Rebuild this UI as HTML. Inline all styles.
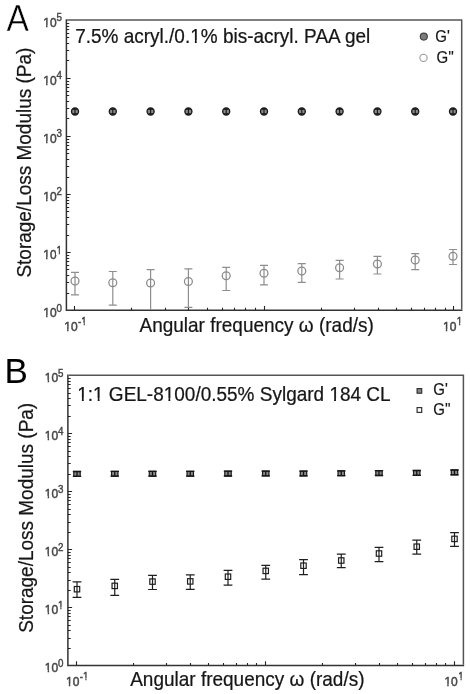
<!DOCTYPE html><html><head><meta charset="utf-8"><style>
html,body{margin:0;padding:0;background:#fff;}
body{width:470px;height:694px;overflow:hidden;}
svg{display:block;filter:grayscale(1) blur(0.35px);}
text{font-family:"Liberation Sans",sans-serif;}
.tl{font-size:12px;fill:#3e4848;stroke:#3e4848;stroke-width:0.45px;}
.ts{font-size:9.8px;fill:#3e4848;stroke:#3e4848;stroke-width:0.4px;}
.ttl{font-size:19px;fill:#161616;stroke:#161616;stroke-width:0.22px;}
.lg{font-size:15px;fill:#161616;stroke:#161616;stroke-width:0.2px;}
.big{font-size:35px;fill:#000;}
.bigA{stroke:#fff;stroke-width:0.5px;}
</style></head><body><svg width="470" height="694" viewBox="0 0 470 694"><rect width="470" height="694" fill="#fff"/><path d="M66.4,19.35 V310.25 H462.45" fill="none" stroke="#333" stroke-width="1.5"/><path d="M67.15,20.1 H461.7 V309.5" fill="none" stroke="#555" stroke-width="1.5"/><path d="M66.4,293.50h2.8M66.4,282.50h2.8M66.4,275.50h2.8M66.4,269.50h2.8M66.4,265.50h2.8M66.4,261.50h2.8M66.4,258.50h2.8M66.4,255.50h2.8M66.4,252.50h4.2M66.4,235.50h2.8M66.4,224.50h2.8M66.4,217.50h2.8M66.4,211.50h2.8M66.4,207.50h2.8M66.4,203.50h2.8M66.4,200.50h2.8M66.4,197.50h2.8M66.4,194.50h4.2M66.4,177.50h2.8M66.4,166.50h2.8M66.4,159.50h2.8M66.4,153.50h2.8M66.4,149.50h2.8M66.4,145.50h2.8M66.4,142.50h2.8M66.4,139.50h2.8M66.4,136.50h4.2M66.4,118.50h2.8M66.4,108.50h2.8M66.4,101.50h2.8M66.4,95.50h2.8M66.4,91.50h2.8M66.4,87.50h2.8M66.4,84.50h2.8M66.4,81.50h2.8M66.4,78.50h4.2M66.4,60.50h2.8M66.4,50.50h2.8M66.4,43.50h2.8M66.4,37.50h2.8M66.4,33.50h2.8M66.4,29.50h2.8M66.4,26.50h2.8M66.4,23.50h2.8M74.50,310.25v-4.2M131.50,310.25v-2.4M165.50,310.25v-2.4M188.50,310.25v-2.4M207.50,310.25v-2.4M222.50,310.25v-2.4M234.50,310.25v-2.4M245.50,310.25v-2.4M255.50,310.25v-2.4M264.50,310.25v-4.2M321.50,310.25v-2.4M354.50,310.25v-2.4M378.50,310.25v-2.4M396.50,310.25v-2.4M411.50,310.25v-2.4M424.50,310.25v-2.4M435.50,310.25v-2.4M445.50,310.25v-2.4M453.50,310.25v-4.2" fill="none" stroke="#252525" stroke-width="1.1"/><path d="M67.9,374.5 V665.5 H464.15" fill="none" stroke="#333" stroke-width="1.5"/><path d="M68.65,375.25 H463.4 V664.75" fill="none" stroke="#555" stroke-width="1.5"/><path d="M67.9,648.50h2.8M67.9,638.50h2.8M67.9,630.50h2.8M67.9,625.50h2.8M67.9,620.50h2.8M67.9,616.50h2.8M67.9,613.50h2.8M67.9,610.50h2.8M67.9,607.50h4.2M67.9,590.50h2.8M67.9,580.50h2.8M67.9,572.50h2.8M67.9,567.50h2.8M67.9,562.50h2.8M67.9,558.50h2.8M67.9,555.50h2.8M67.9,552.50h2.8M67.9,549.50h4.2M67.9,532.50h2.8M67.9,522.50h2.8M67.9,514.50h2.8M67.9,509.50h2.8M67.9,504.50h2.8M67.9,500.50h2.8M67.9,497.50h2.8M67.9,494.50h2.8M67.9,491.50h4.2M67.9,474.50h2.8M67.9,463.50h2.8M67.9,456.50h2.8M67.9,451.50h2.8M67.9,446.50h2.8M67.9,442.50h2.8M67.9,439.50h2.8M67.9,436.50h2.8M67.9,433.50h4.2M67.9,416.50h2.8M67.9,405.50h2.8M67.9,398.50h2.8M67.9,393.50h2.8M67.9,388.50h2.8M67.9,384.50h2.8M67.9,381.50h2.8M67.9,378.50h2.8M76.50,665.5v-4.2M133.50,665.5v-2.4M166.50,665.5v-2.4M190.50,665.5v-2.4M208.50,665.5v-2.4M223.50,665.5v-2.4M236.50,665.5v-2.4M247.50,665.5v-2.4M256.50,665.5v-2.4M265.50,665.5v-4.2M322.50,665.5v-2.4M355.50,665.5v-2.4M379.50,665.5v-2.4M397.50,665.5v-2.4M412.50,665.5v-2.4M425.50,665.5v-2.4M436.50,665.5v-2.4M445.50,665.5v-2.4M454.50,665.5v-4.2" fill="none" stroke="#252525" stroke-width="1.1"/><text transform="translate(56.60,316.85) scale(1.0,1.05)" class="tl" text-anchor="end">10</text><text transform="translate(56.40,311.55) scale(1.0,1.04)" class="ts">0</text><text transform="translate(56.60,258.82) scale(1.0,1.05)" class="tl" text-anchor="end">10</text><text transform="translate(56.40,253.52) scale(1.0,1.04)" class="ts">1</text><text transform="translate(56.60,200.79) scale(1.0,1.05)" class="tl" text-anchor="end">10</text><text transform="translate(56.40,195.49) scale(1.0,1.04)" class="ts">2</text><text transform="translate(56.60,142.76) scale(1.0,1.05)" class="tl" text-anchor="end">10</text><text transform="translate(56.40,137.46) scale(1.0,1.04)" class="ts">3</text><text transform="translate(56.60,84.73) scale(1.0,1.05)" class="tl" text-anchor="end">10</text><text transform="translate(56.40,79.43) scale(1.0,1.04)" class="ts">4</text><text transform="translate(56.60,26.70) scale(1.0,1.05)" class="tl" text-anchor="end">10</text><text transform="translate(56.40,21.40) scale(1.0,1.04)" class="ts">5</text><text transform="translate(58.20,672.10) scale(1.0,1.05)" class="tl" text-anchor="end">10</text><text transform="translate(58.00,666.80) scale(1.0,1.04)" class="ts">0</text><text transform="translate(58.20,614.05) scale(1.0,1.05)" class="tl" text-anchor="end">10</text><text transform="translate(58.00,608.75) scale(1.0,1.04)" class="ts">1</text><text transform="translate(58.20,556.00) scale(1.0,1.05)" class="tl" text-anchor="end">10</text><text transform="translate(58.00,550.70) scale(1.0,1.04)" class="ts">2</text><text transform="translate(58.20,497.95) scale(1.0,1.05)" class="tl" text-anchor="end">10</text><text transform="translate(58.00,492.65) scale(1.0,1.04)" class="ts">3</text><text transform="translate(58.20,439.90) scale(1.0,1.05)" class="tl" text-anchor="end">10</text><text transform="translate(58.00,434.60) scale(1.0,1.04)" class="ts">4</text><text transform="translate(58.20,381.85) scale(1.0,1.05)" class="tl" text-anchor="end">10</text><text transform="translate(58.00,376.55) scale(1.0,1.04)" class="ts">5</text><text transform="translate(64.30,330.80) scale(1.0,1.05)" class="tl">10</text><text transform="translate(78.10,325.10) scale(1.0,1.04)" class="ts">-1</text><text transform="translate(443.00,330.80) scale(1.0,1.05)" class="tl">10</text><text transform="translate(456.80,325.10) scale(1.0,1.04)" class="ts">1</text><text transform="translate(66.00,685.90) scale(1.0,1.05)" class="tl">10</text><text transform="translate(79.80,680.20) scale(1.0,1.04)" class="ts">-1</text><text transform="translate(444.40,685.90) scale(1.0,1.05)" class="tl">10</text><text transform="translate(458.20,680.20) scale(1.0,1.04)" class="ts">1</text><text transform="translate(6.40,31.20) scale(0.96,1.045)" class="big bigA">A</text><text transform="translate(4.40,382.60) scale(1.0,1.02)" class="big">B</text><text transform="translate(75.20,42.70) scale(1.0,1.065)" class="ttl">7.5% acryl./0.1% bis-acryl. PAA gel</text><text transform="translate(77.20,400.80) scale(1.0,1.065)" class="ttl">1:1 GEL-8100/0.55% Sylgard 184 CL</text><text transform="translate(139.50,332.20) scale(1.0,1.065)" class="ttl">Angular frequency ω (rad/s)</text><text transform="translate(130.20,685.90) scale(1.0,1.065)" class="ttl">Angular frequency ω (rad/s)</text><text transform="translate(30.7,277.6) rotate(-90) scale(1,1.03)" class="ttl">Storage/Loss Modulus (Pa)</text><text transform="translate(32.5,632.8) rotate(-90) scale(1,1.03)" class="ttl">Storage/Loss Modulus (Pa)</text><circle cx="423.8" cy="36.6" r="3.5" fill="#7d7d7d" stroke="#444" stroke-width="1.2"/><text transform="translate(435.30,42.40) scale(1.0,1.1)" class="lg">G'</text><circle cx="423.5" cy="57.9" r="3.6" fill="#fff" stroke="#999" stroke-width="1.1"/><text transform="translate(436.60,62.80) scale(1.0,1.1)" class="lg">G''</text><rect x="417.1" y="388.6" width="4.6" height="4.6" fill="#888" stroke="#333" stroke-width="1.2"/><text transform="translate(433.30,395.20) scale(1.0,1.1)" class="lg">G'</text><rect x="417.1" y="407.6" width="4.6" height="4.8" fill="#fff" stroke="#333" stroke-width="1.2"/><text transform="translate(433.30,415.20) scale(1.0,1.1)" class="lg">G''</text><circle cx="75.00" cy="111.5" r="3.5" fill="#8a8a8a" stroke="#1c1c1c" stroke-width="1.4"/><path d="M75.00,108.3V114.7M72.80,109.2h4.4M72.80,113.8h4.4" stroke="#151515" stroke-width="1.1" fill="none"/><circle cx="112.80" cy="111.5" r="3.5" fill="#8a8a8a" stroke="#1c1c1c" stroke-width="1.4"/><path d="M112.80,108.3V114.7M110.60,109.2h4.4M110.60,113.8h4.4" stroke="#151515" stroke-width="1.1" fill="none"/><circle cx="150.60" cy="111.5" r="3.5" fill="#8a8a8a" stroke="#1c1c1c" stroke-width="1.4"/><path d="M150.60,108.3V114.7M148.40,109.2h4.4M148.40,113.8h4.4" stroke="#151515" stroke-width="1.1" fill="none"/><circle cx="188.40" cy="111.5" r="3.5" fill="#8a8a8a" stroke="#1c1c1c" stroke-width="1.4"/><path d="M188.40,108.3V114.7M186.20,109.2h4.4M186.20,113.8h4.4" stroke="#151515" stroke-width="1.1" fill="none"/><circle cx="226.20" cy="111.5" r="3.5" fill="#8a8a8a" stroke="#1c1c1c" stroke-width="1.4"/><path d="M226.20,108.3V114.7M224.00,109.2h4.4M224.00,113.8h4.4" stroke="#151515" stroke-width="1.1" fill="none"/><circle cx="264.00" cy="111.5" r="3.5" fill="#8a8a8a" stroke="#1c1c1c" stroke-width="1.4"/><path d="M264.00,108.3V114.7M261.80,109.2h4.4M261.80,113.8h4.4" stroke="#151515" stroke-width="1.1" fill="none"/><circle cx="301.80" cy="111.5" r="3.5" fill="#8a8a8a" stroke="#1c1c1c" stroke-width="1.4"/><path d="M301.80,108.3V114.7M299.60,109.2h4.4M299.60,113.8h4.4" stroke="#151515" stroke-width="1.1" fill="none"/><circle cx="339.60" cy="111.5" r="3.5" fill="#8a8a8a" stroke="#1c1c1c" stroke-width="1.4"/><path d="M339.60,108.3V114.7M337.40,109.2h4.4M337.40,113.8h4.4" stroke="#151515" stroke-width="1.1" fill="none"/><circle cx="377.40" cy="111.5" r="3.5" fill="#8a8a8a" stroke="#1c1c1c" stroke-width="1.4"/><path d="M377.40,108.3V114.7M375.20,109.2h4.4M375.20,113.8h4.4" stroke="#151515" stroke-width="1.1" fill="none"/><circle cx="415.20" cy="111.5" r="3.5" fill="#8a8a8a" stroke="#1c1c1c" stroke-width="1.4"/><path d="M415.20,108.3V114.7M413.00,109.2h4.4M413.00,113.8h4.4" stroke="#151515" stroke-width="1.1" fill="none"/><circle cx="453.00" cy="111.5" r="3.5" fill="#8a8a8a" stroke="#1c1c1c" stroke-width="1.4"/><path d="M453.00,108.3V114.7M450.80,109.2h4.4M450.80,113.8h4.4" stroke="#151515" stroke-width="1.1" fill="none"/><path d="M75.00,272.4V294.9M71.00,272.4h8M71.00,294.9h8" stroke="#8e8e8e" stroke-width="1.2" fill="none"/><circle cx="75.00" cy="281.1" r="3.95" fill="none" stroke="#8a8a8a" stroke-width="1.25"/><path d="M112.80,271.5V305.1M108.80,271.5h8M108.80,305.1h8" stroke="#8e8e8e" stroke-width="1.2" fill="none"/><circle cx="112.80" cy="282.7" r="3.95" fill="none" stroke="#8a8a8a" stroke-width="1.25"/><path d="M150.60,269.6V310M146.60,269.6h8" stroke="#8e8e8e" stroke-width="1.2" fill="none"/><circle cx="150.60" cy="283.0" r="3.95" fill="none" stroke="#8a8a8a" stroke-width="1.25"/><path d="M188.40,268.9V307.4M184.40,268.9h8M184.40,307.4h8" stroke="#8e8e8e" stroke-width="1.2" fill="none"/><circle cx="188.40" cy="281.5" r="3.95" fill="none" stroke="#8a8a8a" stroke-width="1.25"/><path d="M226.20,267.4V290.5M222.20,267.4h8M222.20,290.5h8" stroke="#8e8e8e" stroke-width="1.2" fill="none"/><circle cx="226.20" cy="275.8" r="3.95" fill="none" stroke="#8a8a8a" stroke-width="1.25"/><path d="M264.00,265.3V284.9M260.00,265.3h8M260.00,284.9h8" stroke="#8e8e8e" stroke-width="1.2" fill="none"/><circle cx="264.00" cy="273.2" r="3.95" fill="none" stroke="#8a8a8a" stroke-width="1.25"/><path d="M301.80,263.6V282.4M297.80,263.6h8M297.80,282.4h8" stroke="#8e8e8e" stroke-width="1.2" fill="none"/><circle cx="301.80" cy="271.1" r="3.95" fill="none" stroke="#8a8a8a" stroke-width="1.25"/><path d="M339.60,260.4V279.0M335.60,260.4h8M335.60,279.0h8" stroke="#8e8e8e" stroke-width="1.2" fill="none"/><circle cx="339.60" cy="267.7" r="3.95" fill="none" stroke="#8a8a8a" stroke-width="1.25"/><path d="M377.40,256.4V274.0M373.40,256.4h8M373.40,274.0h8" stroke="#8e8e8e" stroke-width="1.2" fill="none"/><circle cx="377.40" cy="264.0" r="3.95" fill="none" stroke="#8a8a8a" stroke-width="1.25"/><path d="M415.20,253.6V269.6M411.20,253.6h8M411.20,269.6h8" stroke="#8e8e8e" stroke-width="1.2" fill="none"/><circle cx="415.20" cy="260.0" r="3.95" fill="none" stroke="#8a8a8a" stroke-width="1.25"/><path d="M453.00,249.5V264.5M449.00,249.5h8M449.00,264.5h8" stroke="#8e8e8e" stroke-width="1.2" fill="none"/><circle cx="453.00" cy="256.2" r="3.95" fill="none" stroke="#8a8a8a" stroke-width="1.25"/><rect x="73.80" y="471.50" width="6.4" height="4.8" fill="#8a8a8a" stroke="#1a1a1a" stroke-width="1.2"/><path d="M77.00,471.50V476.30M72.80,471.50h8.4M72.80,476.30h8.4" stroke="#151515" stroke-width="1.3" fill="none"/><rect x="111.55" y="471.40" width="6.4" height="4.8" fill="#8a8a8a" stroke="#1a1a1a" stroke-width="1.2"/><path d="M114.75,471.40V476.20M110.55,471.40h8.4M110.55,476.20h8.4" stroke="#151515" stroke-width="1.3" fill="none"/><rect x="149.30" y="471.30" width="6.4" height="4.8" fill="#8a8a8a" stroke="#1a1a1a" stroke-width="1.2"/><path d="M152.50,471.30V476.10M148.30,471.30h8.4M148.30,476.10h8.4" stroke="#151515" stroke-width="1.3" fill="none"/><rect x="187.05" y="471.30" width="6.4" height="4.8" fill="#8a8a8a" stroke="#1a1a1a" stroke-width="1.2"/><path d="M190.25,471.30V476.10M186.05,471.30h8.4M186.05,476.10h8.4" stroke="#151515" stroke-width="1.3" fill="none"/><rect x="224.80" y="471.20" width="6.4" height="4.8" fill="#8a8a8a" stroke="#1a1a1a" stroke-width="1.2"/><path d="M228.00,471.20V476.00M223.80,471.20h8.4M223.80,476.00h8.4" stroke="#151515" stroke-width="1.3" fill="none"/><rect x="262.55" y="471.10" width="6.4" height="4.8" fill="#8a8a8a" stroke="#1a1a1a" stroke-width="1.2"/><path d="M265.75,471.10V475.90M261.55,471.10h8.4M261.55,475.90h8.4" stroke="#151515" stroke-width="1.3" fill="none"/><rect x="300.30" y="471.10" width="6.4" height="4.8" fill="#8a8a8a" stroke="#1a1a1a" stroke-width="1.2"/><path d="M303.50,471.10V475.90M299.30,471.10h8.4M299.30,475.90h8.4" stroke="#151515" stroke-width="1.3" fill="none"/><rect x="338.05" y="470.90" width="6.4" height="4.8" fill="#8a8a8a" stroke="#1a1a1a" stroke-width="1.2"/><path d="M341.25,470.90V475.70M337.05,470.90h8.4M337.05,475.70h8.4" stroke="#151515" stroke-width="1.3" fill="none"/><rect x="375.80" y="470.70" width="6.4" height="4.8" fill="#8a8a8a" stroke="#1a1a1a" stroke-width="1.2"/><path d="M379.00,470.70V475.50M374.80,470.70h8.4M374.80,475.50h8.4" stroke="#151515" stroke-width="1.3" fill="none"/><rect x="413.55" y="470.50" width="6.4" height="4.8" fill="#8a8a8a" stroke="#1a1a1a" stroke-width="1.2"/><path d="M416.75,470.50V475.30M412.55,470.50h8.4M412.55,475.30h8.4" stroke="#151515" stroke-width="1.3" fill="none"/><rect x="451.30" y="470.00" width="6.4" height="4.8" fill="#8a8a8a" stroke="#1a1a1a" stroke-width="1.2"/><path d="M454.50,470.00V474.80M450.30,470.00h8.4M450.30,474.80h8.4" stroke="#151515" stroke-width="1.3" fill="none"/><path d="M77.00,581.9V597.4M72.60,581.9h8.8M72.60,597.4h8.8" stroke="#1e1e1e" stroke-width="1.2" fill="none"/><rect x="74.30" y="586.50" width="5.4" height="5.4" fill="none" stroke="#1e1e1e" stroke-width="1.2"/><path d="M114.75,579.3V595.3M110.35,579.3h8.8M110.35,595.3h8.8" stroke="#1e1e1e" stroke-width="1.2" fill="none"/><rect x="112.05" y="583.20" width="5.4" height="5.4" fill="none" stroke="#1e1e1e" stroke-width="1.2"/><path d="M152.50,575.3V589.5M148.10,575.3h8.8M148.10,589.5h8.8" stroke="#1e1e1e" stroke-width="1.2" fill="none"/><rect x="149.80" y="578.90" width="5.4" height="5.4" fill="none" stroke="#1e1e1e" stroke-width="1.2"/><path d="M190.25,574.9V589.3M185.85,574.9h8.8M185.85,589.3h8.8" stroke="#1e1e1e" stroke-width="1.2" fill="none"/><rect x="187.55" y="578.70" width="5.4" height="5.4" fill="none" stroke="#1e1e1e" stroke-width="1.2"/><path d="M228.00,570.4V585.2M223.60,570.4h8.8M223.60,585.2h8.8" stroke="#1e1e1e" stroke-width="1.2" fill="none"/><rect x="225.30" y="574.00" width="5.4" height="5.4" fill="none" stroke="#1e1e1e" stroke-width="1.2"/><path d="M265.75,565.3V579.1M261.35,565.3h8.8M261.35,579.1h8.8" stroke="#1e1e1e" stroke-width="1.2" fill="none"/><rect x="263.05" y="568.20" width="5.4" height="5.4" fill="none" stroke="#1e1e1e" stroke-width="1.2"/><path d="M303.50,559.7V574.6M299.10,559.7h8.8M299.10,574.6h8.8" stroke="#1e1e1e" stroke-width="1.2" fill="none"/><rect x="300.80" y="563.00" width="5.4" height="5.4" fill="none" stroke="#1e1e1e" stroke-width="1.2"/><path d="M341.25,554.2V567.6M336.85,554.2h8.8M336.85,567.6h8.8" stroke="#1e1e1e" stroke-width="1.2" fill="none"/><rect x="338.55" y="557.80" width="5.4" height="5.4" fill="none" stroke="#1e1e1e" stroke-width="1.2"/><path d="M379.00,547.3V561.7M374.60,547.3h8.8M374.60,561.7h8.8" stroke="#1e1e1e" stroke-width="1.2" fill="none"/><rect x="376.30" y="550.80" width="5.4" height="5.4" fill="none" stroke="#1e1e1e" stroke-width="1.2"/><path d="M416.75,540.2V554.1M412.35,540.2h8.8M412.35,554.1h8.8" stroke="#1e1e1e" stroke-width="1.2" fill="none"/><rect x="414.05" y="544.00" width="5.4" height="5.4" fill="none" stroke="#1e1e1e" stroke-width="1.2"/><path d="M454.50,532.6V546.4M450.10,532.6h8.8M450.10,546.4h8.8" stroke="#1e1e1e" stroke-width="1.2" fill="none"/><rect x="451.80" y="536.20" width="5.4" height="5.4" fill="none" stroke="#1e1e1e" stroke-width="1.2"/><path d="M43.00,315.00H46.04V318.00H43.00ZM47.56,315.00H50.00V318.00H47.56ZM43.00,257.00H46.04V260.00H43.00ZM47.56,257.00H50.00V260.00H47.56ZM56.00,252.00H58.66V255.00H56.00ZM59.93,252.00H62.00V255.00H59.93ZM43.00,199.00H46.04V202.00H43.00ZM47.56,199.00H50.00V202.00H47.56ZM43.00,141.00H46.04V144.00H43.00ZM47.56,141.00H50.00V144.00H47.56ZM43.00,83.00H46.04V86.00H43.00ZM47.56,83.00H50.00V86.00H47.56ZM43.00,25.00H46.04V28.00H43.00ZM47.56,25.00H50.00V28.00H47.56ZM45.00,670.00H47.64V673.00H45.00ZM49.16,670.00H52.00V673.00H49.16ZM45.00,612.00H47.64V615.00H45.00ZM49.16,612.00H52.00V615.00H49.16ZM58.00,607.00H60.26V610.00H58.00ZM61.53,607.00H64.00V610.00H61.53ZM45.00,554.00H47.64V557.00H45.00ZM49.16,554.00H52.00V557.00H49.16ZM45.00,496.00H47.64V499.00H45.00ZM49.16,496.00H52.00V499.00H49.16ZM45.00,438.00H47.64V441.00H45.00ZM49.16,438.00H52.00V441.00H49.16ZM45.00,380.00H47.64V383.00H45.00ZM49.16,380.00H52.00V383.00H49.16ZM64.00,329.00H67.09V332.00H64.00ZM68.61,329.00H71.00V332.00H68.61ZM81.00,323.00H83.61V326.00H81.00ZM84.88,323.00H87.00V326.00H84.88ZM443.00,329.00H445.79V332.00H443.00ZM447.31,329.00H450.00V332.00H447.31ZM457.00,323.00H459.06V326.00H457.00ZM460.33,323.00H463.00V326.00H460.33ZM66.00,684.00H68.79V687.00H66.00ZM70.31,684.00H73.00V687.00H70.31ZM83.00,678.00H85.31V682.00H83.00ZM86.58,678.00H89.00V682.00H86.58ZM444.00,684.00H447.19V687.00H444.00ZM448.71,684.00H452.00V687.00H448.71ZM458.00,678.00H460.46V682.00H458.00ZM461.73,678.00H464.00V682.00H461.73ZM191.00,40.00H194.85V44.00H191.00ZM196.75,40.00H201.00V44.00H196.75ZM78.00,398.00H81.87V402.00H78.00ZM83.77,398.00H88.00V402.00H83.77ZM94.00,398.00H97.69V402.00H94.00ZM99.59,398.00H104.00V402.00H99.59ZM164.00,398.00H168.39V402.00H164.00ZM170.29,398.00H174.00V402.00H170.29ZM330.00,398.00H334.07V402.00H330.00ZM335.97,398.00H340.00V402.00H335.97Z" fill="#fff"/></svg></body></html>
